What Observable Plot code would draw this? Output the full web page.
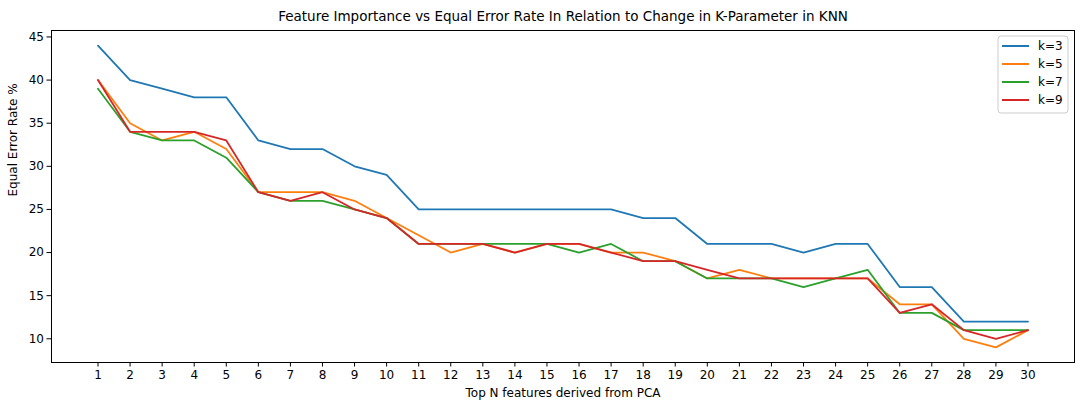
<!DOCTYPE html>
<html>
<head>
<meta charset="utf-8">
<script src="https://cdn.jsdelivr.net/npm/d3@7"></script>
<script src="https://cdn.jsdelivr.net/npm/@observablehq/plot@0.6"></script>
<style>
  html, body { margin: 0; padding: 0; background: #fff; }
  svg { font-family: "DejaVu Sans", sans-serif; }
</style>
</head>
<body>
<div id="chart"></div>
<script>
const features = d3.range(1, 31);
const k3 = [44,40,39,38,38,33,32,32,30,29,25,25,25,25,25,25,25,24,24,21,21,21,20,21,21,16,16,12,12,12];
const k5 = [40,35,33,34,32,27,27,27,26,24,22,20,21,20,21,21,20,20,19,17,18,17,17,17,17,14,14,10,9,11];
const k7 = [39,34,33,33,31,27,26,26,25,24,21,21,21,21,21,20,21,19,19,17,17,17,16,17,18,13,13,11,11,11];
const k9 = [40,34,34,34,33,27,26,27,25,24,21,21,21,20,21,21,20,19,19,18,17,17,17,17,17,13,14,11,10,11];
const seriesNames = ["k=3", "k=5", "k=7", "k=9"];
const seriesValues = [k3, k5, k7, k9];
const colors = ["#1f77b4", "#ff7f0e", "#2ca02c", "#d62728"];
const yTicks = [10, 15, 20, 25, 30, 35, 40, 45];
const title = "Feature Importance vs Equal Error Rate In Relation to Change in K-Parameter in KNN";
const xLabel = "Top N features derived from PCA";
const yLabel = "Equal Error Rate %";

const data = seriesNames.flatMap((name, s) =>
  features.map((f, i) => ({series: name, x: f, y: seriesValues[s][i]})));

const svg = Plot.plot({
  width: 1084,
  height: 410,
  marginLeft: 51,
  marginRight: 10,
  marginTop: 30,
  marginBottom: 48,
  style: {fontFamily: "DejaVu Sans, sans-serif", fontSize: "12px", color: "#000", background: "#fff"},
  x: {domain: [-0.45, 31.45], ticks: features},
  y: {domain: [7.25, 45.75], ticks: yTicks},
  color: {domain: seriesNames, range: colors},
  marks: [
    Plot.line(data, {x: "x", y: "y", z: "series", stroke: "series", strokeWidth: 1.8}),
    Plot.frame({stroke: "#000", strokeWidth: 1}),
    Plot.axisX({ticks: features, tickSize: 4.5, tickPadding: 3, fontSize: 12, label: null, stroke: "#000"}),
    Plot.axisY({ticks: yTicks, tickSize: 4.5, tickPadding: 3, fontSize: 12, label: null, stroke: "#000"}),
    Plot.text([title], {frameAnchor: "top", dy: -14, fontSize: 13.5, fill: "#000", lineAnchor: "middle"}),
    Plot.text([xLabel], {frameAnchor: "bottom", dy: 31, fontSize: 12, fill: "#000", lineAnchor: "middle"}),
    Plot.text([yLabel], {frameAnchor: "left", dx: -38, rotate: -90, fontSize: 12, fill: "#000", lineAnchor: "middle"})
  ]
});

// Legend (matplotlib-style, upper right)
const L = d3.select(svg).append("g").attr("font-size", 12)
  .attr("font-family", "DejaVu Sans, sans-serif").attr("text-anchor", "start");
const lx = 998, ly = 36, lw = 70, lh = 77;
L.append("rect").attr("x", lx).attr("y", ly).attr("width", lw).attr("height", lh)
  .attr("rx", 3).attr("fill", "#fff").attr("fill-opacity", 0.8).attr("stroke", "#ccc");
seriesNames.forEach((name, i) => {
  const yy = ly + 10 + i * 18;
  L.append("line").attr("x1", lx + 4).attr("x2", lx + 31).attr("y1", yy).attr("y2", yy)
    .attr("stroke", colors[i]).attr("stroke-width", 2);
  L.append("text").attr("x", lx + 40).attr("y", yy).attr("dy", "0.35em")
    .attr("text-anchor", "start").attr("fill", "#000").text(name);
});

document.getElementById("chart").appendChild(svg);
</script>
</body>
</html>
